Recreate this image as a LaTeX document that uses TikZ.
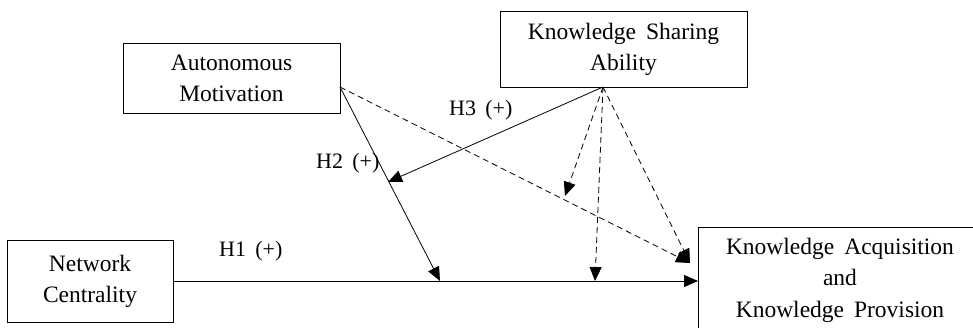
\documentclass[tikz,border=0pt]{standalone}
\usepackage{fontspec}
\setmainfont[WordSpace=1.7]{Liberation Serif}
\usetikzlibrary{arrows.meta}
\tikzset{
  box/.style={draw=black, line width=0.9pt, inner sep=0pt, align=center,
    font=\fontsize{23.5}{31}\selectfont},
  txt/.style={inner sep=0pt, align=center, font=\fontsize{23.5}{31.5}\selectfont},
  hlab/.style={inner sep=0pt, anchor=base west, font=\fontsize{22}{26}\selectfont},
  link/.style={line width=0.8pt, -{Triangle[length=14pt,width=12pt]}},
  dlink/.style={link, dash pattern=on 6pt off 4pt},
}
\begin{document}
\begin{tikzpicture}[x=1pt,y=-1pt]
\useasboundingbox (0,0) rectangle (973,328);
\clip (0,0) rectangle (973,328);
% boxes
\node[box, minimum width=217pt, minimum height=70pt] (am) at (231.5,78) {Autonomous\\Motivation};
\node[box, minimum width=247pt, minimum height=76pt] (ksa) at (623.5,49) {Knowledge Sharing\\Ability};
\node[box, minimum width=166pt, minimum height=82pt] (nc) at (90,281) {Network\\Centrality};
\draw[line width=0.9pt] (698,227) rectangle (1000,360);
\node[txt] (kakp) at (840,280) {Knowledge Acquisition\\and\\Knowledge Provision};
% anchor coordinates
\coordinate (amS) at (340,87);
\coordinate (ksaS) at (603,87);
\coordinate (kW) at (698,281);
\coordinate (kC) at (690,263);
\coordinate (t2) at (440,281);
\coordinate (t3) at (388,182);
\coordinate (td1) at (565,196);
\coordinate (td2) at (595,281);
% connectors
\draw[link] (nc.east |- kW) -- (kW);
\draw[link] (amS) -- (t2);
\draw[link] (ksaS) -- (t3);
\draw[dlink] (amS) -- (kC);
\draw[dlink] (ksaS) -- (td1);
\draw[dlink] (ksaS) -- (td2);
\draw[dlink] (ksaS) -- (kC);
% labels
\node[hlab] (h1) at (219,257) {H1 (+)};
\node[hlab] (h2) at (316,169) {H2 (+)};
\node[hlab] (h3) at (449,116) {H3 (+)};
\end{tikzpicture}
\end{document}
